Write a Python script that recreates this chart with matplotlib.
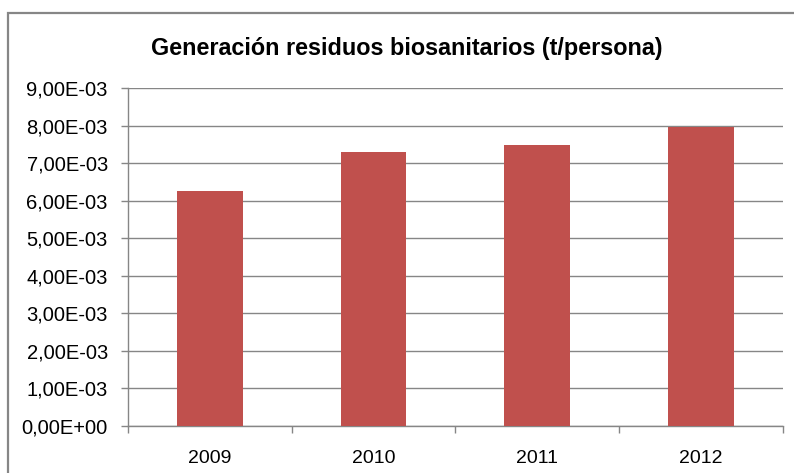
import matplotlib
matplotlib.use("Agg")
import matplotlib.pyplot as plt
from matplotlib.patches import Rectangle
from matplotlib.ticker import FixedLocator

categories = ["2009", "2010", "2011", "2012"]
values = [6.27e-3, 7.29e-3, 7.49e-3, 7.97e-3]
yticks = [i * 1e-3 for i in range(10)]
ytick_labels = ["0,00E+00", "1,00E-03", "2,00E-03", "3,00E-03", "4,00E-03",
                "5,00E-03", "6,00E-03", "7,00E-03", "8,00E-03", "9,00E-03"]
title = "Generación residuos biosanitarios (t/persona)"

plt.rcParams['font.family'] = ['Liberation Sans', 'DejaVu Sans']

W, H = 794, 473
fig = plt.figure(figsize=(W / 100, H / 100), dpi=100)
fig.patch.set_facecolor('white')

# chart border (top & left visible)
fig.patches.append(Rectangle((7.5 / W, -0.2), 1.2, (H - 12.5) / H + 0.2,
                             transform=fig.transFigure, fill=False,
                             edgecolor='#868686', linewidth=1.6))

ax = fig.add_axes([128 / W, (H - 426) / H, (782.7 - 128) / W, (426 - 88.3) / H])
gray = '#868686'
x = list(range(len(categories)))
ax.bar(x, values, width=0.4, color='#C0504D', zorder=3)
ax.set_xlim(-0.5, len(categories) - 0.5)
ax.set_ylim(0, 9e-3)

ax.set_yticks(yticks)
ax.set_yticklabels(ytick_labels)
ax.yaxis.grid(True, color=gray, linewidth=1.0, zorder=0)
ax.set_xticks(x)
ax.set_xticklabels(categories)
ax.xaxis.set_minor_locator(FixedLocator([i - 0.5 for i in range(len(categories) + 1)]))

ax.tick_params(axis='y', length=5, width=1.0, color=gray, pad=9.5, labelsize=14.5)
ax.tick_params(axis='x', which='major', length=0, pad=17, labelsize=14)
ax.tick_params(axis='x', which='minor', length=5, width=1.0, color=gray)

for s in ['top', 'right']:
    ax.spines[s].set_visible(False)
for s in ['left', 'bottom']:
    ax.spines[s].set_color(gray)
    ax.spines[s].set_linewidth(1.0)

fig.text(407 / W, (H - 55) / H, title, ha='center', va='baseline',
         fontsize=16.8, fontweight='bold')

fig.savefig("out.png", dpi=100)
